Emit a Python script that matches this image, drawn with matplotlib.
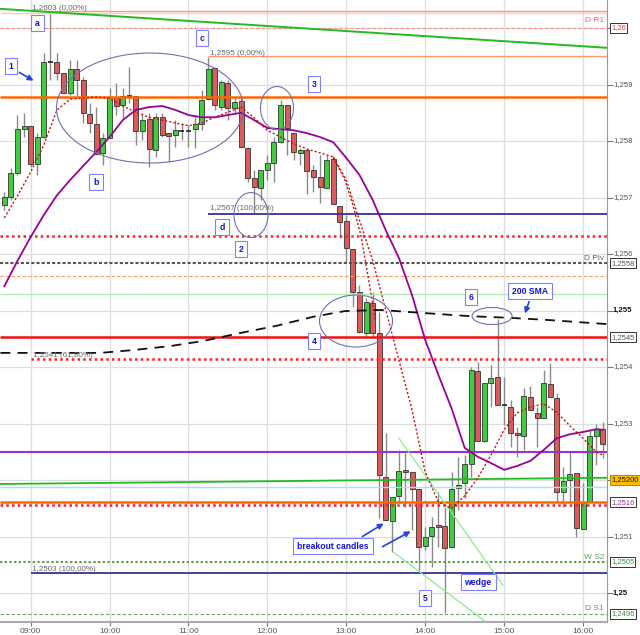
import matplotlib
matplotlib.use('Agg')
import matplotlib.pyplot as plt
from matplotlib.patches import Ellipse
import matplotlib.transforms as mtrans
import numpy as np

plt.rcParams['font.family'] = ['Liberation Sans', 'DejaVu Sans']

# ---------------- data (5-minute candles, first bar 08:40) ----------------
start_min = 520
bar_minutes = 5
opens = [1.25687, 1.25701, 1.25743, 1.25821, 1.25827, 1.25759, 1.25807, 1.25940, 1.25940, 1.25920,
         1.25885, 1.25927, 1.25908, 1.25848, 1.25830, 1.25779, 1.25805, 1.25878, 1.25864, 1.25880,
         1.25880, 1.25818, 1.25839, 1.25784, 1.25842, 1.25814, 1.25811, 1.25818, 1.25818, 1.25821,
         1.25830, 1.25874, 1.25929, 1.25860, 1.25903, 1.25858, 1.25871, 1.25788, 1.25735, 1.25717,
         1.25749, 1.25761, 1.25798, 1.25864, 1.25814, 1.25779, 1.25784, 1.25749, 1.25736, 1.25717,
         1.25768, 1.25685, 1.25658, 1.25609, 1.25533, 1.25460, 1.25513, 1.25460, 1.25205, 1.25127,
         1.25172, 1.25218, 1.25214, 1.25184, 1.25083, 1.25101, 1.25120, 1.25119, 1.25081, 1.25186,
         1.25195, 1.25228, 1.25393, 1.25269, 1.25372, 1.25382, 1.25333, 1.25329, 1.25283, 1.25278,
         1.25347, 1.25319, 1.25310, 1.25370, 1.25345, 1.25179, 1.25200, 1.25212, 1.25113, 1.25161,
         1.25278, 1.25290]
closes = [1.25701, 1.25743, 1.25821, 1.25827, 1.25759, 1.25807, 1.25940, 1.25940, 1.25920, 1.25885,
          1.25927, 1.25908, 1.25850, 1.25832, 1.25777, 1.25805, 1.25878, 1.25862, 1.25880, 1.25880,
          1.25818, 1.25837, 1.25786, 1.25842, 1.25811, 1.25809, 1.25819, 1.25818, 1.25818, 1.25830,
          1.25873, 1.25927, 1.25864, 1.25904, 1.25858, 1.25869, 1.25789, 1.25735, 1.25719, 1.25749,
          1.25761, 1.25798, 1.25864, 1.25823, 1.25781, 1.25784, 1.25747, 1.25736, 1.25719, 1.25766,
          1.25688, 1.25657, 1.25611, 1.25533, 1.25462, 1.25515, 1.25460, 1.25209, 1.25129, 1.25170,
          1.25216, 1.25214, 1.25184, 1.25081, 1.25099, 1.25117, 1.25117, 1.25080, 1.25184, 1.25191,
          1.25228, 1.25395, 1.25269, 1.25372, 1.25381, 1.25333, 1.25333, 1.25283, 1.25280, 1.25349,
          1.25324, 1.25310, 1.25372, 1.25347, 1.25179, 1.25198, 1.25211, 1.25115, 1.25161, 1.25278,
          1.25290, 1.25264]
highs = [1.25710, 1.25752, 1.25846, 1.25850, 1.25827, 1.25814, 1.25956, 1.26030, 1.25956, 1.25920,
         1.25943, 1.25943, 1.25913, 1.25867, 1.25860, 1.25814, 1.25894, 1.25903, 1.25894, 1.25931,
         1.25880, 1.25850, 1.25850, 1.25850, 1.25850, 1.25814, 1.25837, 1.25832, 1.25828, 1.25846,
         1.25890, 1.25949, 1.25931, 1.25908, 1.25908, 1.25878, 1.25878, 1.25789, 1.25749, 1.25749,
         1.25775, 1.25807, 1.25873, 1.25864, 1.25814, 1.25788, 1.25784, 1.25758, 1.25775, 1.25775,
         1.25772, 1.25685, 1.25669, 1.25609, 1.25545, 1.25522, 1.25533, 1.25497, 1.25283, 1.25170,
         1.25253, 1.25248, 1.25214, 1.25184, 1.25117, 1.25134, 1.25179, 1.25152, 1.25214, 1.25241,
         1.25244, 1.25400, 1.25409, 1.25372, 1.25404, 1.25485, 1.25382, 1.25342, 1.25294, 1.25363,
         1.25366, 1.25329, 1.25395, 1.25407, 1.25354, 1.25223, 1.25250, 1.25212, 1.25195, 1.25288,
         1.25299, 1.25303]
lows = [1.25678, 1.25696, 1.25740, 1.25807, 1.25754, 1.25740, 1.25805, 1.25908, 1.25908, 1.25885,
        1.25881, 1.25878, 1.25832, 1.25814, 1.25775, 1.25758, 1.25805, 1.25846, 1.25841, 1.25867,
        1.25793, 1.25802, 1.25754, 1.25772, 1.25807, 1.25763, 1.25789, 1.25802, 1.25789, 1.25788,
        1.25819, 1.25873, 1.25855, 1.25855, 1.25837, 1.25850, 1.25789, 1.25727, 1.25670, 1.25696,
        1.25731, 1.25727, 1.25796, 1.25775, 1.25766, 1.25758, 1.25706, 1.25710, 1.25690, 1.25717,
        1.25688, 1.25628, 1.25586, 1.25506, 1.25460, 1.25451, 1.25451, 1.25133, 1.25129, 1.25073,
        1.25161, 1.25152, 1.25111, 1.25041, 1.25076, 1.25046, 1.25081, 1.24965, 1.25081, 1.25147,
        1.25168, 1.25205, 1.25269, 1.25267, 1.25329, 1.25333, 1.25297, 1.25258, 1.25241, 1.25253,
        1.25324, 1.25258, 1.25310, 1.25347, 1.25161, 1.25152, 1.25159, 1.25099, 1.25113, 1.25161,
        1.25227, 1.25239]

# moving averages read at every second bar (bar index)
ma_idx = list(range(0, 91, 2)) + [91]
sma20 = [1.25543, 1.25588, 1.25630, 1.25669, 1.25704, 1.25731, 1.25756, 1.25781, 1.25807, 1.25837,
         1.25855, 1.25860, 1.25862, 1.25855, 1.25846, 1.25842, 1.25842, 1.25846, 1.25850, 1.25837,
         1.25823, 1.25821, 1.25819, 1.25814, 1.25807, 1.25798, 1.25770, 1.25740, 1.25696, 1.25642,
         1.25593, 1.25527, 1.25448, 1.25386, 1.25327, 1.25257, 1.25241, 1.25230, 1.25218, 1.25225,
         1.25234, 1.25253, 1.25274, 1.25281, 1.25285, 1.25290, 1.25289]
fast_ma = [1.25664, 1.25703, 1.25745, 1.25793, 1.25855, 1.25874, 1.25876, 1.25878, 1.25876, 1.25862,
           1.25851, 1.25842, 1.25837, 1.25832, 1.25827, 1.25832, 1.25842, 1.25851, 1.25860, 1.25841,
           1.25819, 1.25807, 1.25795, 1.25786, 1.25779, 1.25772, 1.25731, 1.25660, 1.25589, 1.25501,
           1.25412, 1.25324, 1.25214, 1.25161, 1.25150, 1.25172, 1.25204, 1.25244, 1.25289, 1.25319,
           1.25329, 1.25335, 1.25320, 1.25296, 1.25274, 1.25250, 1.25244]
# second dotted curve (minutes, price)
curve2_t = [770, 779, 785, 791, 795, 799, 802]
curve2_p = [1.25772, 1.25731, 1.25687, 1.25634, 1.25581, 1.25527, 1.25483]
# 200 SMA (minutes, price)
sma200_t = [517, 593, 618, 646, 671, 699, 727, 755, 779, 806, 836, 874, 905, 935, 978]
sma200_p = [1.25425, 1.25425, 1.25430, 1.25437, 1.25446, 1.25460, 1.25473, 1.25489, 1.25499,
            1.25501, 1.25496, 1.25490, 1.25487, 1.25483, 1.25476]

# wedge lines (minutes, price)
wedge_up_t, wedge_up_p = [820, 899], [1.25274, 1.25014]
wedge_lo_t, wedge_lo_p = [815.5, 886], [1.25073, 1.24949]
# green trendlines
trend_top_t, trend_top_p = [516.7, 978.2], [1.26034, 1.25965]
trend_mid_t, trend_mid_p = [516.7, 978.2], [1.25193, 1.25204]

# horizontal levels: (price, start minute, colour, lw, style)
levels = [
    (1.26031, 540, '#ff9966', 1.0, '-'),
    (1.26026, 516.7, '#ffc8b8', 1.0, '-'),
    (1.26000, 516.7, '#ff8888', 0.8, (0, (3, 2))),
    (1.25950, 675, '#ff9966', 1.0, '-'),
    (1.25878, 516.7, '#ff6600', 1.8, '-'),
    (1.25670, 675, '#333399', 1.3, '-'),
    (1.25632, 516.7, '#ff2020', 1.8, (0, (1, 1.3))),
    (1.25584, 516.7, '#555555', 1.5, (0, (1.5, 1))),
    (1.25561, 516.7, '#ff9966', 0.8, (0, (3, 2))),
    (1.25529, 516.7, '#aaeeaa', 1.0, '-'),
    (1.25453, 516.7, '#ee1111', 1.8, '-'),
    (1.25414, 540, '#ff2020', 1.8, (0, (1, 1.3))),
    (1.25250, 516.7, '#9933cc', 1.5, '-'),
    (1.25188, 516.7, '#aaddff', 1.0, '-'),
    (1.25161, 516.7, '#ff6600', 1.8, '-'),
    (1.25156, 516.7, '#ff2020', 1.8, (0, (1, 1.3))),
    (1.25055, 516.7, '#559955', 1.4, (0, (1.2, 1.2))),
    (1.25035, 540, '#333399', 1.3, '-'),
    (1.24963, 516.7, '#66aa66', 0.8, (0, (3, 2))),
]

y_ticks = [1.250, 1.251, 1.252, 1.253, 1.254, 1.255, 1.256, 1.257, 1.258, 1.259, 1.260]
x_ticks = [540, 600, 660, 720, 780, 840, 900, 960]
x_labels = ['09:00', '10:00', '11:00', '12:00', '13:00', '14:00', '15:00', '16:00']

# ---------------- figure ----------------
XMIN, XMAX = 516.7, 978.2
YMIN, YMAX = 1.249487, 1.260496
fig = plt.figure(figsize=(6.4, 6.35), dpi=100)
ax = fig.add_axes([0, 13 / 635, 607 / 640, 622 / 635])
ax.set_xlim(XMIN, XMAX)
ax.set_ylim(YMIN, YMAX)


def P(x, y):
    """pixel position in the picture -> data coordinates (for annotations)"""
    return (540 + (x - 30.7) * 60 / 78.9, 1.26 - (y - 28) / 56500)


def W(w):
    return w * 60 / 78.9


def H(h):
    return h / 56500


ax.set_xticks(x_ticks)
ax.set_xticklabels(x_labels)
ax.set_yticks(y_ticks)
ax.yaxis.tick_right()
ax.tick_params(axis='y', length=4, color='#777777', labelright=False, labelleft=False)
ax.tick_params(axis='x', length=3, color='#777777', labelsize=6, labelcolor='#555555', pad=1.5)
ax.grid(True, color='#dedede', lw=0.9, zorder=0)
ax.set_axisbelow(True)
for s in ['top', 'left']:
    ax.spines[s].set_visible(False)
ax.spines['right'].set_color('#999999')
ax.spines['bottom'].set_color('#aaaaaa')
ax.spines['bottom'].set_linewidth(1.5)

# candles
t = start_min + bar_minutes * np.arange(len(opens))
o = np.array(opens); c = np.array(closes); hi = np.array(highs); lo = np.array(lows)
ax.vlines(t, lo, hi, color='#8a8a8a', lw=1.0, zorder=2)
up = c > o + 1e-7
dn = c < o - 1e-7
dj = ~(up | dn)
bw = 3.8
ax.bar(t[up], (c - o)[up], bottom=o[up], width=bw, color='#3fcc3f', edgecolor='#333333', lw=0.6, zorder=3)
ax.bar(t[dn], (o - c)[dn], bottom=c[dn], width=bw, color='#dd5a5a', edgecolor='#333333', lw=0.6, zorder=3)
ax.hlines(o[dj], t[dj] - bw / 2, t[dj] + bw / 2, color='#222222', lw=1.2, zorder=3)

# levels
for price, x0, col, lw, ls in levels:
    ax.hlines(price, x0, XMAX, color=col, lw=lw, linestyles=[ls], zorder=4)
ax.plot(trend_top_t, trend_top_p, color='#22bb22', lw=1.4, zorder=4)
ax.plot(trend_mid_t, trend_mid_p, color='#22bb22', lw=1.3, zorder=4)
ax.plot(wedge_up_t, wedge_up_p, color='#88ee88', lw=0.9, zorder=4)
ax.plot(wedge_lo_t, wedge_lo_p, color='#88ee88', lw=0.9, zorder=4)

# indicators
ma_t = start_min + bar_minutes * np.array(ma_idx)
ax.plot(ma_t, sma20, color='#990099', lw=1.3, zorder=5)
ax.plot(ma_t, fast_ma, color='#cc1111', lw=1.0, ls=(0, (1.5, 1.5)), zorder=5)
ax.plot(curve2_t, curve2_p, color='#cc1111', lw=1.0, ls=(0, (1.5, 1.5)), zorder=5)
ax.plot(sma200_t, sma200_p, color='#111111', lw=1.3, ls=(0, (5.5, 4)), zorder=5)

# ellipses
for (cx, cy, w, h) in [(150, 108, 187, 110), (277, 108, 33, 43), (251, 215, 34, 45),
                       (356, 321, 73, 52), (492, 316, 40, 17)]:
    ax.add_patch(Ellipse(P(cx, cy), W(w), H(h), fill=False, ec='#7070b0', lw=0.8, zorder=6))

# labelled boxes
box_kw = dict(boxstyle='square,pad=0.45', fc='white', ec='#8080ff', lw=0.8)
for (cx, cy, s) in [(37.5, 23, 'a'), (11, 66, '1'), (96, 182, 'b'), (202, 38, 'c'),
                    (314, 84, '3'), (222, 227, 'd'), (241, 249, '2'), (314, 341, '4'),
                    (425, 598, '5'), (471, 297, '6'), (530, 291, '200 SMA'),
                    (333, 546, 'breakout candles'), (478, 582, 'wedge')]:
    ax.text(*P(cx, cy), s, ha='center', va='center', fontsize=6.2, fontweight='bold',
            color='#1111dd', bbox=box_kw, zorder=8)

arrow_kw = dict(arrowstyle='-|>', color='#2244dd', lw=1.2, mutation_scale=8)
for tail, tip in [((17, 71), (36, 82)), ((530, 299), (524, 316)),
                  ((360, 538), (386, 522)), ((380, 548), (413, 530))]:
    ax.annotate('', xy=P(*tip), xytext=P(*tail), arrowprops=arrow_kw, zorder=8)

# fib labels
for (x, y, s) in [(32, 8, '1,2603 (0,00%)'), (210, 53, '1,2595 (0,00%)'),
                  (210, 208, '1,2567 (100,00%)'), (33, 355, '1,2541 (61,80%)'),
                  (32, 569, '1,2503 (100,00%)')]:
    ax.text(*P(x, y), s, ha='left', va='center', fontsize=5.8, color='#666666', zorder=7)

for (y, s, col) in [(20, 'D R1', '#ff6666'), (258, 'D Piv', '#666666'),
                    (557, 'W S2', '#669966'), (608, 'D S1', '#669966')]:
    ax.text(*P(604, y), s, ha='right', va='center', fontsize=6, color=col, zorder=7)

# right axis labels
tr = mtrans.blended_transform_factory(ax.transAxes, ax.transData)
xl = 613 / 607
for v in y_ticks:
    if abs(v - 1.252) < 1e-6 or abs(v - 1.26) < 1e-6:
        continue
    s = ('%.3f' % v).rstrip('0').replace('.', ',')
    bold = abs(v - 1.255) < 1e-6 or abs(v - 1.25) < 1e-6
    ax.text(xl, v, s, transform=tr, ha='left', va='center', fontsize=5.6,
            color='#111111' if bold else '#555555', fontweight='bold' if bold else 'normal',
            clip_on=False)

xb = 611 / 607
for (price, s, col, fc, ec) in [(1.26000, '1,26', '#ff3333', 'white', '#333333'),
                                (1.25584, '1,2558', '#555555', 'white', '#333333'),
                                (1.25453, '1,2545', '#555555', 'white', '#333333'),
                                (1.25200, '1,25200', '#111111', '#ffc000', '#aa8800'),
                                (1.25161, '1,2516', '#993399', 'white', '#333333'),
                                (1.25055, '1,2505', '#448844', 'white', '#333333'),
                                (1.24963, '1,2496', '#448844', 'white', '#333333')]:
    ax.text(xb, price, s, transform=tr, ha='left', va='center', fontsize=5.5, color=col,
            bbox=dict(boxstyle='square,pad=0.15', fc=fc, ec=ec, lw=0.7), clip_on=False)

fig.savefig('out.png', dpi=100)
